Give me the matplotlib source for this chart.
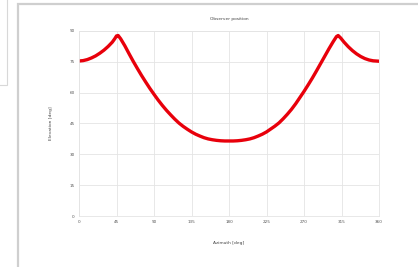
import matplotlib
matplotlib.use("Agg")
import matplotlib.pyplot as plt
from matplotlib.patches import Rectangle

# values
azimuth = [0, 5, 10, 15, 20, 25, 30, 35, 40, 43, 45, 47, 50, 55, 60, 65, 70, 75,
           80, 85, 90, 95, 100, 105, 110, 115, 120, 125, 130, 135, 140, 145, 150,
           155, 160, 165, 170, 175, 180, 185, 190, 195, 200, 205, 210, 215, 220,
           225, 230, 235, 240, 245, 250, 255, 260, 265, 270, 275, 280, 285, 290,
           295, 300, 305, 309, 311, 314, 318, 323, 328, 333, 338, 343, 348, 353,
           360]
elevation = [75.4, 75.6, 76.1, 76.9, 77.9, 79.2, 80.7, 82.5, 84.6, 86.3, 87.6,
             87.8, 86.2, 82.8, 79.0, 75.3, 71.8, 68.4, 65.2, 62.1, 59.2, 56.4,
             53.8, 51.4, 49.2, 47.1, 45.2, 43.6, 42.2, 40.9, 39.8, 38.9, 38.1,
             37.5, 37.1, 36.8, 36.6, 36.5, 36.5, 36.5, 36.6, 36.8, 37.1, 37.5,
             38.1, 38.9, 39.8, 40.9, 42.3, 43.7, 45.3, 47.3, 49.5, 51.9, 54.6,
             57.6, 60.6, 63.8, 67.1, 70.6, 74.2, 77.8, 81.4, 84.8, 87.3, 87.8,
             86.6, 84.6, 82.4, 80.5, 78.9, 77.6, 76.6, 75.9, 75.5, 75.3]

x_ticks = [0, 45, 90, 135, 180, 225, 270, 315, 360]
y_ticks = [0, 15, 30, 45, 60, 75, 90]

fig = plt.figure(figsize=(4.18, 2.67), dpi=100)
fig.patch.set_facecolor("white")

# screenshot-like frames around the chart
fig.patches.append(Rectangle((18 / 418, -0.02), 1.05, 1 - 4 / 267 + 0.02,
                             transform=fig.transFigure, fill=False,
                             edgecolor="#cfcfcf", linewidth=1.6))
fig.patches.append(Rectangle((-0.02, 1 - 85 / 267), 7 / 418 + 0.02, 85 / 267 + 0.02,
                             transform=fig.transFigure, fill=False,
                             edgecolor="#d8d8d8", linewidth=0.8))

ax = fig.add_axes([79 / 418, 1 - 216 / 267, 300 / 418, 185 / 267])
ax.plot(azimuth, elevation, color="#e8000b", linewidth=2.4,
        solid_capstyle="round", solid_joinstyle="round")

ax.set_xlim(0, 360)
ax.set_ylim(0, 90)
ax.set_xticks(x_ticks)
ax.set_yticks(y_ticks)
ax.tick_params(labelsize=3, colors="#555555", length=0, pad=3)
ax.grid(True, color="#e4e4e4", linewidth=0.6)
for s in ax.spines.values():
    s.set_color("#e4e4e4")
    s.set_linewidth(0.6)

ax.set_title("Observer position", fontsize=3.2, color="#444444", pad=8)
ax.set_xlabel("Azimuth [deg]", fontsize=3.2, color="#444444", labelpad=12)
ax.set_ylabel("Elevation [deg]", fontsize=3.2, color="#444444", labelpad=12)

fig.savefig("out.png", dpi=100)
